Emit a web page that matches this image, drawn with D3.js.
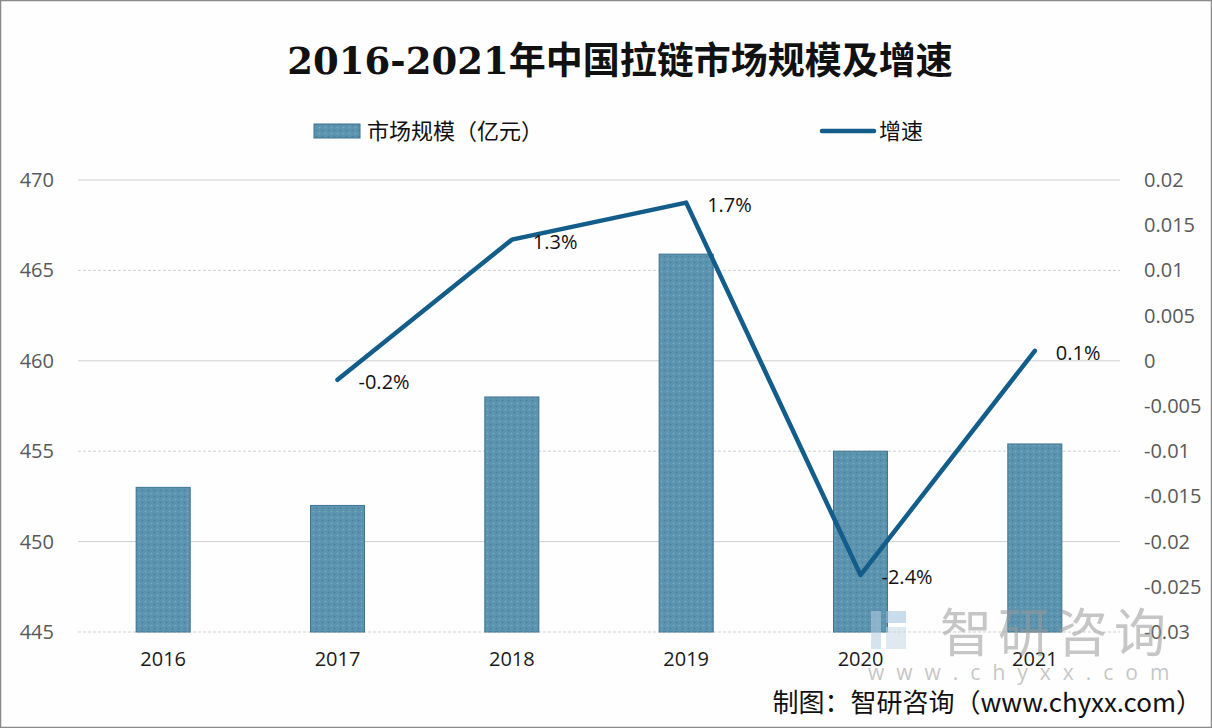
<!DOCTYPE html>
<html><head><meta charset="utf-8">
<script src="https://cdn.jsdelivr.net/npm/d3@7"></script>
<style>
body{margin:0;background:#fff;}
svg{display:block;}
</style></head>
<body>
<svg id="c" width="1212" height="728"></svg>
<script>
const years = ["2016","2017","2018","2019","2020","2021"];
const marketSize = [453, 452, 458, 465.9, 455, 455.4];
const growthYears = ["2017","2018","2019","2020","2021"];
const growth = [-0.0021, 0.0134, 0.0175, -0.0237, 0.0011];
const growthLabels = ["-0.2%","1.3%","1.7%","-2.4%","0.1%"];
const leftTicks = [445,450,455,460,465,470];
const rightTicks = [-0.03,-0.025,-0.02,-0.015,-0.01,-0.005,0,0.005,0.01,0.015,0.02];

const svg = d3.select("#c");
const W=1212,H=728;
svg.append("rect").attr("x",0.5).attr("y",0.5).attr("width",W-1).attr("height",H-1)
  .attr("fill","#fefefe").attr("stroke","#8a8a8a").attr("stroke-width",1.5);

const L=76,R=1122,T=180,B=632;
const x = d3.scaleBand().domain(years).range([L,R]).paddingInner(0.69).paddingOuter(0.345);
const yL = d3.scaleLinear().domain([445,470]).range([B,T]);
const yR = d3.scaleLinear().domain([-0.03,0.02]).range([B,T]);

// gridlines
const grid = svg.append("g");
grid.selectAll("line").data(leftTicks).join("line")
  .attr("x1",78).attr("x2",1120)
  .attr("y1",d=>yL(d)).attr("y2",d=>yL(d))
  .attr("stroke","#cfcfcf").attr("stroke-width",1).attr("stroke-dasharray",d=>d%10===0?null:"3,2");

// left axis
const axL = d3.axisLeft(yL).tickValues(leftTicks).tickSize(0).tickPadding(0);
const gL = svg.append("g").attr("transform","translate(54,0)").call(axL);
gL.select(".domain").remove();
gL.selectAll("text").attr("font-family","'Open Sans','Noto Sans',sans-serif").attr("font-size",20).attr("fill","#595959");

// right axis
const axR = d3.axisRight(yR).tickValues(rightTicks).tickSize(0).tickPadding(0)
  .tickFormat(d=>d===0?"0":String(+d.toFixed(3)));
const gR = svg.append("g").attr("transform","translate(1144,0)").call(axR);
gR.select(".domain").remove();
gR.selectAll("text").attr("font-family","'Open Sans','Noto Sans',sans-serif").attr("font-size",20).attr("fill","#595959");

// x axis
const axX = d3.axisBottom(x).tickSize(0).tickPadding(0);
const gX = svg.append("g").attr("transform","translate(0,652)").call(axX);
gX.select(".domain").remove();
gX.selectAll("text").attr("font-family","'Open Sans','Noto Sans',sans-serif").attr("font-size",20).attr("fill","#1a1a1a");

// pattern for bars
const defs = svg.append("defs");
const pat = defs.append("pattern").attr("id","dots").attr("patternUnits","userSpaceOnUse").attr("width",6).attr("height",6);
pat.append("rect").attr("width",6).attr("height",6).attr("fill","#5c93ae");
pat.append("circle").attr("cx",1.5).attr("cy",1.5).attr("r",0.8).attr("fill","#7eadc4");
pat.append("circle").attr("cx",4.5).attr("cy",4.5).attr("r",0.8).attr("fill","#437b98");

svg.append("g").selectAll("rect").data(years).join("rect")
  .attr("x",d=>x(d)).attr("width",x.bandwidth())
  .attr("y",(d,i)=>yL(marketSize[i])).attr("height",(d,i)=>B-yL(marketSize[i]))
  .attr("fill","url(#dots)").attr("stroke","#3d7593").attr("stroke-width",1);

// line
const cx = d=>x(d)+x.bandwidth()/2;
const line = d3.line().x((d,i)=>cx(growthYears[i])).y(d=>yR(d));
svg.append("path").datum(growth).attr("d",line)
  .attr("fill","none").attr("stroke","#135d8b").attr("stroke-width",4.5)
  .attr("stroke-linejoin","round").attr("stroke-linecap","round");

svg.append("g").selectAll("text").data(growth).join("text")
  .attr("x",(d,i)=>cx(growthYears[i])+21).attr("y",d=>yR(d)+9)
  .attr("font-family","'Open Sans','Noto Sans',sans-serif").attr("font-size",20).attr("fill","#111")
  .text((d,i)=>growthLabels[i]);

// title
svg.append("text").attr("x",620).attr("y",74).attr("text-anchor","middle")
  .attr("font-family","'DejaVu Serif','Noto Sans CJK SC',serif").attr("font-weight","bold")
  .attr("font-size",37).attr("fill","#111")
  .text("2016-2021年中国拉链市场规模及增速");

// legend
svg.append("rect").attr("x",314).attr("y",124).attr("width",46).attr("height",14).attr("fill","url(#dots)").attr("stroke","#3d7593");
svg.append("text").attr("x",367).attr("y",139).attr("font-family","'Noto Sans CJK SC',sans-serif").attr("font-size",22).attr("fill","#111").text("市场规模（亿元）");
svg.append("line").attr("x1",822).attr("x2",874).attr("y1",131).attr("y2",131).attr("stroke","#135d8b").attr("stroke-width",4.5).attr("stroke-linecap","round");
svg.append("text").attr("x",879).attr("y",139).attr("font-family","'Noto Sans CJK SC',sans-serif").attr("font-size",22).attr("fill","#111").text("增速");

// watermark
const wm = svg.append("g").attr("opacity",0.55);
wm.append("rect").attr("x",871).attr("y",611).attr("width",10).attr("height",38).attr("fill","#b5cde0");
wm.append("rect").attr("x",886).attr("y",611).attr("width",20).attr("height",12).attr("fill","#9fc2df");
wm.append("rect").attr("x",886).attr("y",627).attr("width",20).attr("height",22).attr("fill","#c8d8e6");
wm.append("text").attr("x",940).attr("y",652).attr("font-family","'Noto Sans CJK SC',sans-serif").attr("font-size",52).attr("fill","#9a9a9a").attr("letter-spacing",6).text("智研咨询");
wm.append("text").attr("x",868).attr("y",680).attr("font-family","'Open Sans',sans-serif").attr("font-size",21).attr("fill","#9a9a9a").attr("letter-spacing",12).text("www.chyxx.com");

// source
svg.append("text").attr("x",1202).attr("y",712).attr("text-anchor","end")
  .attr("font-family","'Noto Sans CJK SC',sans-serif").attr("font-size",26).attr("fill","#111")
  .text("制图：智研咨询（www.chyxx.com）");
</script>
</body></html>
